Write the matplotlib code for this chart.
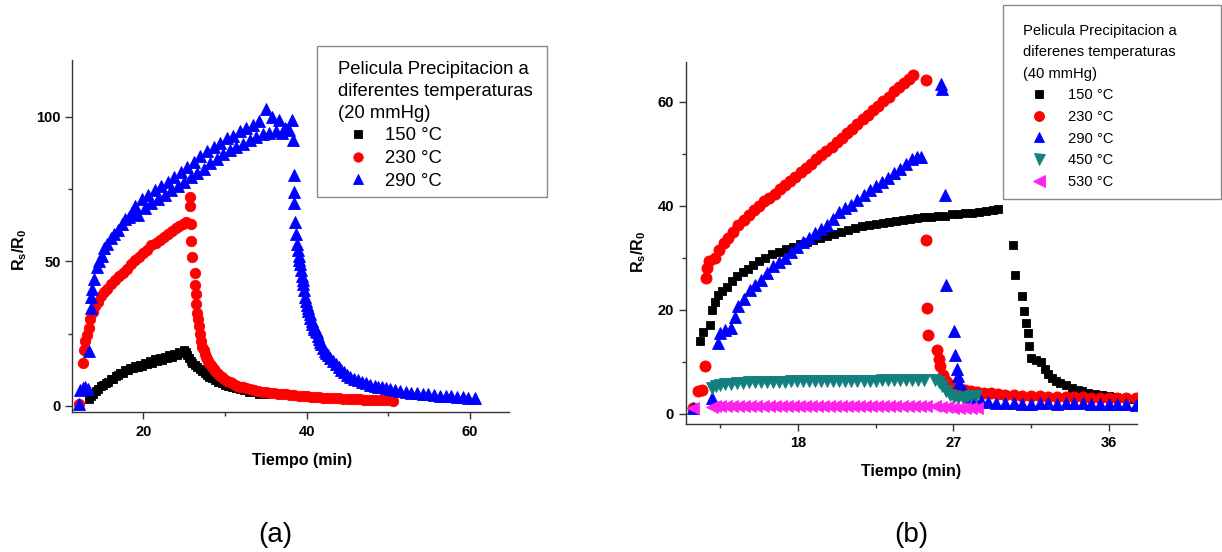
import matplotlib
matplotlib.use("Agg")
import matplotlib.pyplot as plt
from matplotlib.patches import Rectangle

plt.rcParams["font.family"] = ["Liberation Sans", "DejaVu Sans"]
plt.rcParams["mathtext.fontset"] = "custom"
plt.rcParams["mathtext.rm"] = "Liberation Sans"
plt.rcParams["mathtext.it"] = "Liberation Sans:italic"
plt.rcParams["mathtext.bf"] = "Liberation Sans:bold"

# ---------------- (a) 20 mmHg ----------------
a_labels = ["150 °C", "230 °C", "290 °C"]

a150_t = [13.3, 13.6, 13.9, 14.2, 14.5, 14.8, 15.1, 15.4, 15.7, 16.0,
          16.3, 16.6, 16.9, 17.2, 17.5, 17.8, 18.1, 18.4, 18.7, 19.0,
          19.3, 19.6, 19.9, 20.2, 20.5, 20.8, 21.1, 21.4, 21.7, 22.0,
          22.3, 22.6, 22.9, 23.2, 23.5, 23.8, 24.1, 24.4, 24.7, 25.0,
          25.2, 25.4, 25.6, 25.8, 26.0,
          26.3, 26.6, 26.9, 27.2, 27.5, 27.8, 28.1, 28.4,
          28.8, 29.2, 29.6, 30.0, 30.4, 30.8,
          31.3, 31.8, 32.3, 32.9, 33.5, 34.2, 35.0]
a150_v = [2.5, 3.5, 4.3, 5.2, 5.8, 6.8, 7.2, 8.0, 8.4, 9.2,
          9.5, 10.3, 10.6, 11.3, 11.5, 12.3, 12.5, 13.2, 13.0, 13.8,
          13.5, 14.3, 13.8, 14.8, 14.4, 15.5, 15.0, 16.2, 15.6, 16.6,
          16.0, 17.0, 16.5, 17.5, 17.0, 18.0, 17.6, 18.6, 18.2, 19.3,
          18.8, 17.5, 16.5, 15.6, 14.8,
          14.2, 13.5, 12.8, 12.0, 11.3, 10.7, 10.1, 9.6,
          9.0, 8.4, 7.9, 7.4, 7.0, 6.6,
          6.2, 5.8, 5.4, 5.0, 4.7, 4.3, 4.0]

a230_t = [12.1, 12.6, 12.75, 12.9, 13.1, 13.3, 13.5, 13.8, 14.1, 14.4, 14.8, 15.2,
          15.6, 16.0, 16.5, 17.0, 17.5, 18.0, 18.5, 19.0, 19.5, 20.0, 20.5, 21.0,
          21.5, 22.0, 22.5, 23.0, 23.5, 24.0, 24.4, 24.8, 25.2,
          25.7, 25.72, 25.8, 25.88, 25.92, 26.3, 26.38, 26.45, 26.5, 26.55,
          26.7, 26.8, 26.9, 27.05, 27.2, 27.4, 27.55, 27.65, 27.8, 27.9,
          28.1, 28.3, 28.45, 28.6, 28.8, 29.0, 29.2, 29.4, 29.6, 29.85,
          30.3, 30.6, 30.9, 31.2, 31.5, 31.85, 32.2, 32.6, 33.1, 33.5,
          34.0, 34.5, 35.0, 35.5, 36.0, 36.5, 37.0, 37.5, 38.0, 38.5,
          39.0, 39.5, 40.0, 40.5, 41.0, 41.5, 42.0, 42.5, 43.0, 43.5,
          44.0, 44.5, 45.0, 45.5, 46.0, 46.5, 47.0, 47.5, 48.0, 48.5,
          49.0, 49.5, 50.0, 50.6]
a230_v = [0.8, 15.0, 19.5, 22.5, 24.5, 27.0, 30.0, 32.5, 34.5, 36.0, 38.0, 39.5,
          40.5, 42.0, 43.5, 45.0, 46.0, 47.5, 49.0, 50.5, 51.5, 53.0, 54.0, 55.5,
          56.5, 57.5, 58.5, 59.5, 60.5, 61.5, 62.2, 63.0, 63.5,
          72.3, 69.0, 63.0, 57.0, 51.5, 46.0, 41.7, 38.8, 35.3, 32.0,
          30.0, 27.5, 25.0, 22.6, 20.5, 19.2, 18.0, 17.0, 16.3, 15.7,
          14.8, 14.0, 13.4, 12.8, 12.1, 11.5, 11.0, 10.5, 10.0, 9.5,
          8.8, 8.3, 7.8, 7.4, 7.0, 6.7, 6.5, 6.1, 5.8, 5.5,
          5.3, 5.0, 4.8, 4.6, 4.4, 4.3, 4.1, 4.0, 3.8, 3.7,
          3.6, 3.4, 3.3, 3.2, 3.1, 3.0, 2.9, 2.8, 2.8, 2.7,
          2.6, 2.5, 2.5, 2.4, 2.3, 2.3, 2.2, 2.2, 2.1, 2.0,
          2.0, 1.9, 1.9, 1.8]

a290_t = [12.1, 12.3, 12.6, 12.9, 13.2, 13.4, 13.55, 13.65, 13.75, 14.0, 14.3,
          14.6, 14.9, 15.2, 15.6, 16.0, 16.4, 16.9, 17.4, 17.8, 18.2, 18.6,
          19.0, 19.4, 19.8, 20.2, 20.6, 21.0, 21.4, 21.8, 22.2, 22.6, 23.0, 23.4,
          23.8, 24.2, 24.6, 25.0, 25.4, 25.8, 26.2, 26.6, 27.0, 27.4, 27.8, 28.2,
          28.6, 29.0, 29.4, 29.8, 30.2, 30.6, 31.0, 31.4, 31.8, 32.2, 32.6, 33.0,
          33.4, 33.8, 34.2, 34.6, 35.0, 35.4, 35.8, 36.2, 36.6, 37.0, 37.4, 37.8,
          38.2, 38.3, 38.4, 38.45, 38.5, 38.6, 38.7, 38.8, 38.9, 39.0,
          39.1, 39.2, 39.3, 39.4, 39.5, 39.6, 39.7, 39.8, 39.9, 40.0,
          40.1, 40.2, 40.35, 40.45, 40.6, 40.7, 40.85, 40.95, 41.1, 41.2,
          41.35, 41.45, 41.6, 41.7, 41.95, 42.2, 42.4, 42.6, 42.9, 43.2,
          43.55, 43.9, 44.25, 44.6, 44.95, 45.3, 45.8, 46.3, 46.8, 47.3,
          47.8, 48.3, 48.75, 49.2, 49.7, 50.2, 50.8, 51.4, 52.1, 52.8,
          53.5, 54.2, 54.9, 55.6, 56.3, 57.0, 57.7, 58.4, 59.1, 59.8, 60.6]
a290_v = [0.7, 5.5, 6.2, 6.5, 6.0, 19.0, 34.0, 37.6, 40.5, 44.0, 48.0,
          50.0, 52.0, 54.5, 56.0, 58.0, 59.5, 61.0, 63.0, 64.8, 65.5, 67.0,
          69.0, 66.0, 71.5, 68.5, 73.0, 70.0, 74.5, 71.5, 76.0, 73.0, 77.5, 74.5,
          79.0, 76.0, 81.0, 77.5, 82.5, 79.0, 84.5, 80.5, 86.5, 82.0, 88.0, 84.0,
          89.5, 85.5, 91.0, 87.0, 92.5, 88.5, 93.5, 89.5, 95.0, 90.5, 96.0, 92.0,
          97.0, 93.0, 98.5, 94.0, 102.5, 94.5, 100.0, 95.0, 99.0, 94.5, 96.0, 95.5,
          98.8, 92.0, 80.0, 74.0, 70.0, 63.6, 59.6, 56.0, 54.0, 52.0,
          50.5, 49.0, 47.0, 45.0, 43.5, 42.0, 40.0, 37.6, 36.3, 35.0,
          34.0, 33.0, 31.8, 30.5, 29.3, 28.4, 27.3, 26.5, 26.0, 25.5,
          24.2, 23.0, 22.2, 21.5, 20.2, 19.0, 18.2, 17.5, 16.6, 15.7,
          14.6, 13.5, 12.6, 11.7, 10.8, 10.0, 9.5, 9.0, 8.4, 7.9,
          7.4, 7.0, 6.7, 6.4, 6.1, 5.8, 5.5, 5.2, 4.9, 4.6,
          4.4, 4.2, 4.0, 3.8, 3.6, 3.5, 3.3, 3.1, 3.0, 2.8, 2.6]

# ---------------- (b) 40 mmHg ----------------
b_labels = ["150 °C", "230 °C", "290 °C", "450 °C", "530 °C"]

b150_t = [11.9, 12.35, 12.5, 12.9, 13.05, 13.2, 13.35, 13.6, 13.9, 14.2, 14.5,
          14.8, 15.1, 15.4, 15.75, 16.1, 16.5, 16.9, 17.3, 17.7, 18.1, 18.5,
          18.9, 19.3, 19.7, 20.1, 20.5, 20.9, 21.3, 21.7, 22.1, 22.5, 22.9, 23.3,
          23.7, 24.1, 24.5, 24.9, 25.3, 25.7, 26.1, 26.5, 26.9, 27.3, 27.7, 28.1,
          28.5, 28.9, 29.3, 29.6,
          30.45, 30.55, 31.0, 31.1, 31.2, 31.3, 31.4, 31.5, 31.8, 32.1, 32.3,
          32.5, 32.7, 32.95, 33.2, 33.5, 33.9, 34.2, 34.45, 34.8, 35.2, 35.6,
          36.0, 36.4, 36.7, 37.1, 37.6]
b150_v = [1.0, 13.9, 15.7, 17.0, 20.0, 21.5, 22.8, 23.5, 24.3, 25.5, 26.5,
          27.2, 27.8, 28.6, 29.3, 29.9, 30.6, 31.1, 31.6, 32.1, 32.6, 33.0,
          33.4, 33.8, 34.2, 34.6, 35.0, 35.4, 35.7, 36.0, 36.2, 36.4, 36.6, 36.9,
          37.1, 37.3, 37.5, 37.6, 37.8, 37.9, 38.0, 38.1, 38.3, 38.4, 38.5, 38.6,
          38.7, 38.9, 39.1, 39.3,
          32.5, 26.7, 22.7, 19.7, 17.5, 15.5, 12.9, 10.7, 10.2, 10.0, 8.5,
          7.6, 6.9, 6.3, 5.9, 5.4, 4.9, 4.6, 4.3, 4.0, 3.8, 3.6,
          3.3, 3.1, 3.0, 2.8, 2.7]

b230_t = [11.9, 12.2, 12.45, 12.6, 12.65, 12.75, 12.85, 13.2, 13.45, 13.7, 13.95,
          14.25, 14.55, 14.85, 15.15, 15.45, 15.75, 16.05, 16.35, 16.65, 16.95,
          17.25, 17.55, 17.85, 18.15, 18.45, 18.75, 19.05, 19.35, 19.65, 19.95,
          20.25, 20.55, 20.85, 21.15, 21.45, 21.75, 22.05, 22.35, 22.65, 22.95,
          23.25, 23.55, 23.85, 24.15, 24.45, 24.65,
          25.4, 25.43, 25.5, 25.55, 26.05, 26.15, 26.25, 26.4, 26.6, 26.85, 27.1,
          27.4, 27.7, 28.0, 28.4, 28.8, 29.2, 29.6, 30.0, 30.5, 31.0, 31.5,
          32.0, 32.5, 33.0, 33.5, 34.0, 34.5, 35.0, 35.5, 36.0, 36.5, 37.0, 37.6]
b230_v = [1.0, 4.3, 4.5, 9.1, 26.0, 28.0, 29.3, 30.0, 31.5, 32.8, 33.8,
          35.0, 36.2, 37.3, 38.2, 39.2, 40.0, 40.8, 41.5, 42.3, 43.2,
          44.0, 44.8, 45.6, 46.4, 47.3, 48.0, 48.9, 49.7, 50.5, 51.3,
          52.2, 53.0, 53.9, 54.8, 55.7, 56.6, 57.5, 58.4, 59.2, 60.1,
          61.0, 62.0, 62.9, 63.6, 64.4, 65.1,
          64.1, 33.4, 20.3, 15.2, 12.3, 10.4, 9.1, 7.5, 6.2, 5.5, 5.0,
          4.8, 4.6, 4.4, 4.2, 4.0, 3.9, 3.7, 3.6, 3.5, 3.4, 3.3,
          3.3, 3.2, 3.2, 3.1, 3.1, 3.1, 3.0, 3.0, 3.0, 2.9, 2.9, 2.9]

b290_t = [11.9, 13.05, 13.35, 13.5, 13.8, 14.1, 14.35, 14.55, 14.85, 15.2, 15.5,
          15.85, 16.2, 16.55, 16.9, 17.25, 17.6, 17.95, 18.3, 18.65, 19.0, 19.35,
          19.7, 20.05, 20.4, 20.75, 21.1, 21.45, 21.8, 22.15, 22.5, 22.85, 23.2,
          23.55, 23.9, 24.25, 24.6, 24.9, 25.15,
          26.3, 26.35, 26.5, 26.57, 27.05, 27.1, 27.2, 27.28, 27.35, 27.6, 27.9,
          28.2, 28.6, 29.0, 29.5, 30.0, 30.5, 31.0, 31.5, 32.0, 32.5, 33.0, 33.5,
          34.0, 34.5, 35.0, 35.5, 36.0, 36.5, 37.0, 37.6]
b290_v = [1.0, 3.0, 13.6, 15.5, 16.0, 16.5, 18.5, 20.6, 22.0, 23.8, 24.8,
          25.7, 27.0, 28.3, 29.2, 30.0, 31.0, 32.0, 33.0, 33.8, 34.7, 35.5,
          36.2, 37.5, 38.7, 39.5, 40.2, 41.0, 42.0, 43.0, 43.8, 44.5, 45.4,
          46.2, 47.0, 48.0, 49.0, 49.3, 49.4,
          63.5, 62.5, 42.0, 24.8, 15.8, 11.3, 8.5, 7.2, 5.9, 4.3, 3.2,
          2.7, 2.4, 2.2, 2.1, 2.0, 2.0, 1.9, 1.9, 2.0, 2.0, 1.9, 2.0,
          2.0, 2.0, 1.9, 1.9, 1.9, 1.8, 1.8, 1.7]

b450_t = [13.05, 13.25, 13.5, 13.8, 14.1, 14.45, 14.8, 15.15, 15.5, 15.85, 16.2,
          16.55, 16.9, 17.25, 17.6, 17.95, 18.3, 18.65, 19.0, 19.35, 19.7, 20.05,
          20.4, 20.75, 21.1, 21.45, 21.8, 22.15, 22.5, 22.85, 23.2, 23.55, 23.9,
          24.25, 24.6, 24.95, 25.3,
          25.95, 26.15, 26.35, 26.55, 26.8, 27.05, 27.3, 27.55, 27.8, 28.05, 28.3]
b450_v = [4.9, 5.3, 5.5, 5.6, 5.7, 5.9, 5.9, 6.0, 6.0, 6.0, 6.1,
          6.1, 6.1, 6.1, 6.2, 6.2, 6.2, 6.2, 6.2, 6.2, 6.3, 6.3,
          6.3, 6.3, 6.3, 6.3, 6.3, 6.3, 6.3, 6.4, 6.4, 6.4, 6.4,
          6.4, 6.4, 6.4, 6.5,
          6.5, 6.0, 5.2, 4.3, 3.6, 3.2, 3.0, 2.9, 3.1, 3.3, 3.4]

b530_t = [11.9, 13.0, 13.2, 13.5, 13.85, 14.2, 14.55, 14.9, 15.25, 15.6, 15.95,
          16.3, 16.65, 17.0, 17.35, 17.7, 18.05, 18.4, 18.75, 19.1, 19.45, 19.8,
          20.15, 20.5, 20.85, 21.2, 21.55, 21.9, 22.25, 22.6, 22.95, 23.3, 23.65,
          24.0, 24.35, 24.7, 25.05, 25.4,
          25.95, 26.3, 26.65, 27.0, 27.35, 27.7, 28.05, 28.4]
b530_v = [1.0, 1.2, 1.4, 1.5, 1.5, 1.5, 1.5, 1.5, 1.5, 1.5, 1.5,
          1.5, 1.5, 1.5, 1.5, 1.5, 1.5, 1.5, 1.5, 1.5, 1.5, 1.5,
          1.5, 1.5, 1.5, 1.5, 1.5, 1.5, 1.5, 1.5, 1.5, 1.5, 1.5,
          1.5, 1.5, 1.5, 1.5, 1.5,
          1.4, 1.3, 1.2, 1.1, 1.1, 1.0, 1.0, 1.0]

# ---------------- figure ----------------
W, H = 1222, 552
fig = plt.figure(figsize=(W / 100, H / 100), dpi=100)


def axes_px(left, top, right, bottom):
    return fig.add_axes([left / W, 1 - bottom / H, (right - left) / W, (bottom - top) / H])


def style_axes(ax, xt, xminor, yt, yminor):
    for side in ("top", "right"):
        ax.spines[side].set_visible(False)
    for side in ("left", "bottom"):
        ax.spines[side].set_linewidth(1.0)
        ax.spines[side].set_color("#333333")
    ax.set_xticks(xt)
    ax.set_xticks(xminor, minor=True)
    ax.set_yticks(yt)
    ax.set_yticks(yminor, minor=True)
    ax.tick_params(which="major", direction="out", length=4.8, width=1.0,
                   color="#333333", labelsize=10.5)
    ax.tick_params(which="minor", direction="out", length=2.8, width=1.0,
                   color="#333333")
    ax.tick_params(axis="x", pad=4.0)
    ax.tick_params(axis="y", pad=3.6)
    for lab in ax.get_xticklabels() + ax.get_yticklabels():
        lab.set_fontweight("bold")


def place_labels(ax, xpos, ypos):
    ax.set_xlabel("Tiempo (min)", fontsize=11.5, fontweight="bold")
    ax.set_ylabel(r"$\mathbf{R_s/R_0}$", fontsize=11.5)
    ax.xaxis.set_label_coords(*xpos)
    ax.yaxis.set_label_coords(*ypos)
    ax.xaxis.label.set_va("center")
    ax.yaxis.label.set_va("center")


def legend_box(left, top, right, bottom):
    fig.patches.append(Rectangle((left / W, 1 - bottom / H), (right - left) / W,
                                 (bottom - top) / H, transform=fig.transFigure,
                                 fill=False, edgecolor="#8a8a8a", linewidth=1.0))


def scatter(ax, t, v, marker, ms, color):
    line, = ax.plot(t, v, ls="none", marker=marker, ms=ms, color=color,
                    mec=color, mew=0.6)
    return line


# panel (a)
axa = axes_px(72.3, 60, 509, 412.3)
h1 = scatter(axa, a150_t, a150_v, "s", 6.2, "#000000")
h2 = scatter(axa, a230_t, a230_v, "o", 7.5, "#ff0000")
h3 = scatter(axa, a290_t, a290_v, "^", 8.5, "#0000ff")
axa.set_xlim(11.31, 64.76)
axa.set_ylim(-2.18, 119.6)
style_axes(axa, [20, 40, 60], [30, 50], [0, 50, 100], [25, 75])
place_labels(axa, (0.526, -0.1354), (-0.1207, 0.4607))

legend_box(317, 46, 547, 197)
la = axa.legend([h1, h2, h3], a_labels,
                title="Pelicula Precipitacion a\ndiferentes temperaturas\n(20 mmHg)",
                loc="upper left", bbox_to_anchor=(338 / W, 1 - 60.5 / H),
                bbox_transform=fig.transFigure, frameon=False, borderpad=0,
                borderaxespad=0, fontsize=13.3, title_fontsize=13.3, alignment="left",
                handlelength=2.15, handletextpad=0.42, labelspacing=0.3,
                markerscale=0.9)
la.get_title().set_linespacing(1.4)

# panel (b)
axb = axes_px(685.7, 61.7, 1137, 424)
g1 = scatter(axb, b150_t, b150_v, "s", 6.3, "#000000")
g2 = scatter(axb, b230_t, b230_v, "o", 8.0, "#ff0000")
g3 = scatter(axb, b290_t, b290_v, "^", 8.5, "#0000ff")
g4 = scatter(axb, b450_t, b450_v, "v", 8.8, "#138080")
g5 = scatter(axb, b530_t, b530_v, "<", 8.8, "#ff22ee")
axb.set_xlim(11.5, 37.64)
axb.set_ylim(-2.02, 67.7)
style_axes(axb, [18, 27, 36], [13.5, 22.5, 31.5], [0, 20, 40, 60], [10, 30, 50])
place_labels(axb, (0.4992, -0.1317), (-0.1035, 0.4747))

legend_box(1003, 5, 1221, 199)
lb = axb.legend([g1, g2, g3, g4, g5], b_labels,
                title="Pelicula Precipitacion a\ndiferenes temperaturas\n(40 mmHg)",
                loc="upper left", bbox_to_anchor=(1022.7 / W, 1 - 24.3 / H),
                bbox_transform=fig.transFigure, frameon=False, borderpad=0,
                borderaxespad=0, fontsize=10.6, title_fontsize=10.6, alignment="left",
                handlelength=2.2, handletextpad=0.86, labelspacing=0.52,
                markerscale=0.9)
lb.get_title().set_linespacing(1.65)

fig.text(275 / W, 1 - 535 / H, "(a)", fontsize=20, ha="center", va="center")
fig.text(911.7 / W, 1 - 535 / H, "(b)", fontsize=20, ha="center", va="center")

fig.savefig("out.png", dpi=100)
